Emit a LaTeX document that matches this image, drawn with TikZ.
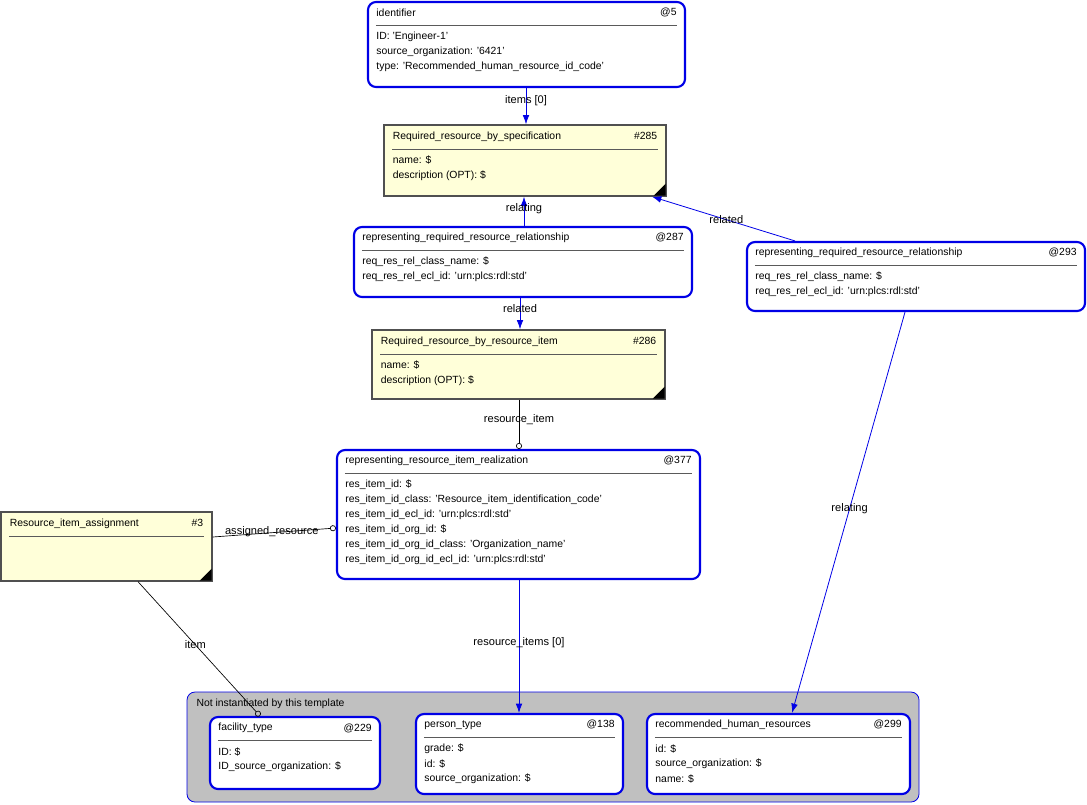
\documentclass[tikz,border=0pt]{standalone}
\usepackage{fontspec}
\setmainfont{Liberation Sans}
\usetikzlibrary{arrows.meta,fit}

\tikzset{every picture/.style={line width=0.75pt}}
\tikzset{
	inst/.style={draw={rgb,255:red,0;green,0;blue,230}, line width=1.6pt, rounded corners=6pt, fill=white},
	tmpl/.style={draw={rgb,255:red,80;green,80;blue,80}, line width=1pt, fill={rgb,255:red,255;green,255;blue,217}},
	grp/.style={draw={rgb,255:red,0;green,0;blue,230}, line width=0.6pt, rounded corners=6pt, fill={rgb,255:red,192;green,192;blue,192}},
	txt/.style={inner sep=0pt, anchor=west, font=\fontsize{7.8}{9}\selectfont},
	lbl/.style={inner sep=1pt, font=\fontsize{8.3}{10}\selectfont},
	ref/.style={draw={rgb,255:red,0;green,0;blue,230}, line width=0.6pt, -{Latex[length=7pt,width=5pt]}},
	opt/.style={draw=black, line width=0.5pt, -{Circle[open,length=4.5pt,width=4.5pt]}},
	sep/.style={draw={rgb,255:red,90;green,90;blue,90}, line width=0.8pt}
}

% name, style, x1, y1, x2, y2, title, id, attributes
\newcommand{\ent}[9]{%
	\node[#2, fit={(#3,#4) (#5,#6)}, inner sep=0pt] (#1) {};
	\node[txt] at ([shift={(9,12)}]#1.north west) {#7};
	\node[txt, anchor=east] at ([shift={(-9,12)}]#1.north east) {#8};
	\draw[sep] ([shift={(9,25)}]#1.north west) -- ([shift={(-9,25)}]#1.north east);
	\foreach \a [count=\i] in {#9} {\node[txt] at ([shift={(9,21+15*\i)}]#1.north west) {\a};}
}
\newcommand{\corner}[1]{%
	\fill[black] ([shift={(-1,-1)}]#1.south east) -- ++(-12,0) -- ++(12,-12) -- cycle;
}

\begin{document}
\begin{tikzpicture}[x=0.75pt,y=0.75pt,yscale=-1,xscale=1]
	\useasboundingbox (0,0) rectangle (1087,804);

	% group of not instantiated entities
	\node[grp, fit={(187,692) (919,802)}, inner sep=0pt] (grp) {};
	\node[txt] at (196,704) {Not instantiated by this template};

	% entities
	\ent{ident}{inst}{368}{2}{685}{87}{identifier}{@5}{{ID: 'Engineer-1'},{source\_organization: '6421'},{type: 'Recommended\_human\_resource\_id\_code'}}
	\ent{spec}{tmpl}{384}{125}{666}{196}{Required\_resource\_by\_specification}{\#285}{{name: \$},{description (OPT): \$}}
	\corner{spec}
	\ent{relA}{inst}{354}{227}{692}{297}{representing\_required\_resource\_relationship}{@287}{{req\_res\_rel\_class\_name: \$},{req\_res\_rel\_ecl\_id: 'urn:plcs:rdl:std'}}
	\ent{relB}{inst}{747}{242}{1085}{311}{representing\_required\_resource\_relationship}{@293}{{req\_res\_rel\_class\_name: \$},{req\_res\_rel\_ecl\_id: 'urn:plcs:rdl:std'}}
	\ent{item}{tmpl}{372}{330}{665}{399}{Required\_resource\_by\_resource\_item}{\#286}{{name: \$},{description (OPT): \$}}
	\corner{item}
	\ent{real}{inst}{337}{450}{700}{579}{representing\_resource\_item\_realization}{@377}{{res\_item\_id: \$},{res\_item\_id\_class: 'Resource\_item\_identification\_code'},{res\_item\_id\_ecl\_id: 'urn:plcs:rdl:std'},{res\_item\_id\_org\_id: \$},{res\_item\_id\_org\_id\_class: 'Organization\_name'},{res\_item\_id\_org\_id\_ecl\_id: 'urn:plcs:rdl:std'}}
	\ent{assign}{tmpl}{1}{512}{212}{581}{Resource\_item\_assignment}{\#3}{{}}
	\corner{assign}
	\ent{fac}{inst}{210}{717}{380}{789}{facility\_type}{@229}{{ID: \$},{ID\_source\_organization: \$}}
	\ent{pers}{inst}{416}{714}{623}{794}{person\_type}{@138}{{grade: \$},{id: \$},{source\_organization: \$}}
	\ent{rec}{inst}{647}{714}{910}{794}{recommended\_human\_resources}{@299}{{id: \$},{source\_organization: \$},{name: \$}}

	% connectors
	\draw[ref] (ident.south -| 526,0) -- (spec.north -| 526,0) node[lbl, pos=0.35] {items [0]};
	\draw[ref] (relA.north -| 524,0) -- (spec.south -| 524,0) node[lbl, pos=0.6] {relating};
	\draw[ref] (relB.north -| 795,0) -- (spec.south -| 652,0) node[lbl, pos=0.48] {related};
	\draw[ref] (relA.south -| 520,0) -- (item.north -| 520,0) node[lbl, pos=0.35] {related};
	\draw[opt] (item.south -| 519,0) -- (real.north -| 519,0) node[lbl, pos=0.4] {resource\_item};
	\draw[opt] (assign.east |- 0,537) -- (real.west |- 0,528) node[lbl, pos=0.48, above=-4pt] {assigned\_resource};
	\draw[opt] (assign.south -| 138,0) -- (fac.north -| 260,0) node[lbl, pos=0.47] {item};
	\draw[ref] (real.south -| 519,0) -- (pers.north -| 519,0) node[lbl, pos=0.47] {resource\_items [0]};
	\draw[ref] (relB.south -| 905,0) -- (rec.north -| 792,0) node[lbl, pos=0.49] {relating};
\end{tikzpicture}
\end{document}
